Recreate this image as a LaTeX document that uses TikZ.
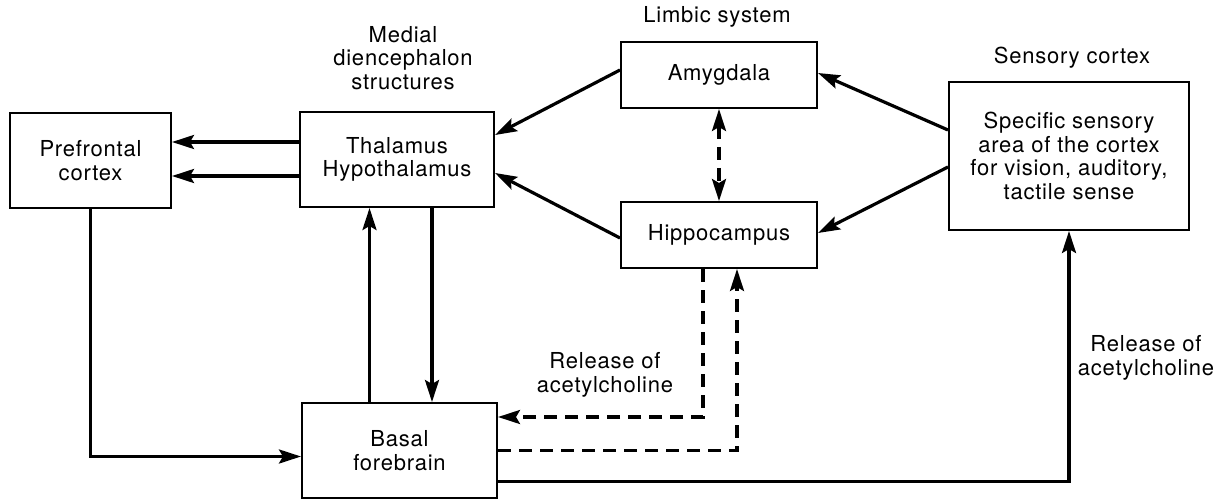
\documentclass[tikz,border=0pt]{standalone}
\usepackage{fontspec}
\setsansfont[LetterSpace=3.5]{TeX Gyre Heros}
\usetikzlibrary{arrows.meta}

\begin{document}
\begin{tikzpicture}[x=1pt,y=-1pt,
    box/.style={draw,line width=2pt,align=center,inner sep=0pt},
    tip/.tip={Stealth[length=22pt,width=14pt,inset=4pt]},
    arr/.style={line width=3.2pt,-tip},
    darr/.style={arr,dash pattern=on 13pt off 8pt},
    lbl/.style={align=center}]
  \useasboundingbox (0,0) rectangle (1222,500);
  \sffamily\fontsize{22}{23.5}\selectfont

  % boxes
  \node[box,minimum width=161pt,minimum height=95pt] (pref) at (90.5,160.5) {Prefrontal\\cortex};
  \node[box,minimum width=194pt,minimum height=95pt] (thal) at (397,159.5) {Thalamus\\Hypothalamus};
  \node[box,minimum width=196pt,minimum height=66pt] (amyg) at (719,75) {Amygdala};
  \node[box,minimum width=196pt,minimum height=66pt] (hipp) at (719,235) {Hippocampus};
  \node[box,minimum width=240pt,minimum height=148pt] (sens) at (1069,156)
    {Specific sensory\\area of the cortex\\for vision, auditory,\\tactile sense};
  \node[box,minimum width=195pt,minimum height=95pt] (basal) at (399.5,450.5) {Basal\\forebrain};

  % headings
  \node[lbl] (medial) at (403,58) {Medial\\diencephalon\\structures};
  \node[lbl] (limbic) at (717,17) {Limbic system};
  \node[lbl] (senshead) at (1072,58) {Sensory cortex};
  \node[lbl] (rel1) at (605,375) {Release of\\acetylcholine};
  \node[lbl] (rel2) at (1146,358) {Release of\\acetylcholine};

  % connectors
  \foreach \s in {17.5,-16.5}
    \draw[arr] ([yshift=\s pt]thal.west) -- ([yshift=\s pt]thal.west -| pref.east);
  \draw[arr] ([yshift=5pt]amyg.west) -- ([yshift=24.5pt]thal.east);
  \draw[arr] ([yshift=-3pt]hipp.west) -- ([yshift=-13.5pt]thal.east);
  \draw[arr] ([yshift=26pt]sens.west) -- ([yshift=2pt]amyg.east);
  \draw[arr] ([yshift=-11pt]sens.west) -- ([yshift=2pt]hipp.east);
  \draw[darr,tip-tip] (amyg.south) -- (hipp.north);

  \draw[arr] ([xshift=-30pt]basal.north) -- ([xshift=-30pt]basal.north |- thal.south);
  \draw[arr] ([xshift=35pt]thal.south) -- ([xshift=35pt]thal.south |- basal.north);
  \draw[arr] (pref.south) |- ([yshift=-6pt]basal.west);

  \draw[darr] ([xshift=-16pt]hipp.south) |- ([yshift=33.5pt]basal.east);
  \draw[darr] (basal.east) -| ([xshift=18pt]hipp.south);
  \draw[arr] ([yshift=-31pt]basal.east) -| (sens.south);
\end{tikzpicture}
\end{document}
